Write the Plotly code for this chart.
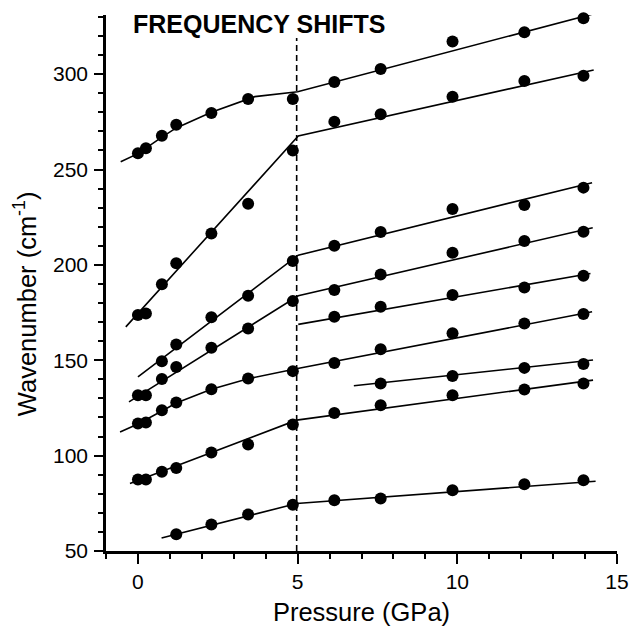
import plotly.graph_objects as go

# ---------------- data ----------------
P_full = [0.0, 0.25, 0.75, 1.2, 2.3, 3.45, 4.85, 6.15, 7.6, 9.85, 12.1, 13.95]

s1_x = P_full
s1_y = [258.5, 261.1, 267.7, 273.5, 279.6, 287.0, 287.0, 295.9, 302.7, 317.1, 322.0, 329.3]
s2_x = P_full
s2_y = [173.7, 174.5, 189.8, 200.8, 216.5, 232.0, 259.9, 275.1, 279.0, 288.2, 296.4, 299.2]
s3_x = [0.75, 1.2, 2.3, 3.45, 4.85, 6.15, 7.6, 9.85, 12.1, 13.95]
s3_y = [149.5, 158.3, 172.5, 183.8, 202.0, 210.0, 217.2, 229.3, 231.4, 240.5]
s4_x = P_full
s4_y = [131.7, 131.7, 140.2, 146.5, 156.5, 166.7, 181.0, 186.8, 195.0, 206.3, 212.5, 217.4]
s5_x = [6.15, 7.6, 9.85, 12.1, 13.95]
s5_y = [172.8, 178.0, 184.2, 188.2, 194.3]
s6_x = P_full
s6_y = [116.8, 117.4, 123.8, 127.9, 134.8, 140.4, 144.3, 148.6, 155.8, 164.1, 169.3, 174.2]
s7_x = [7.6, 9.85, 12.1, 13.95]
s7_y = [137.8, 141.8, 146.0, 148.0]
s8_x = P_full
s8_y = [87.5, 87.5, 91.5, 93.5, 101.6, 105.8, 116.3, 122.4, 126.4, 131.7, 134.7, 137.8]
s9_x = [1.2, 2.3, 3.45, 4.85, 6.15, 7.6, 9.85, 12.1, 13.95]
s9_y = [58.8, 63.9, 69.1, 74.3, 76.6, 77.5, 81.8, 85.0, 87.1]

# fitted lines (vertices)
f1_x = [-0.54, 0.0, 0.75, 1.2, 2.3, 3.0, 3.66, 5.0, 14.35]
f1_y = [254.1, 258.3, 267.0, 271.8, 280.0, 284.3, 288.2, 290.8, 332.0]
f2_x = [-0.38, 5.02, 14.27]
f2_y = [167.5, 267.6, 302.2]
f3_x = [0.0, 5.02, 14.22]
f3_y = [141.3, 205.1, 243.1]
f4_x = [-0.28, 5.02, 14.24]
f4_y = [128.2, 183.8, 219.5]
f5_x = [5.02, 14.17]
f5_y = [168.8, 195.5]
f6_x = [-0.56, 0.0, 0.75, 1.2, 2.3, 3.45, 5.0, 14.22]
f6_y = [112.4, 116.6, 123.4, 127.6, 134.8, 140.3, 145.7, 175.4]
f7_x = [6.76, 14.25]
f7_y = [136.6, 150.1]
f8_x = [-0.25, 4.97, 14.25]
f8_y = [85.4, 118.6, 139.6]
f9_x = [0.74, 4.97, 14.33]
f9_y = [56.8, 74.9, 86.6]

transition_x = [4.97, 4.97]
transition_y = [50, 319]

x_ticks = [0, 5, 10, 15]
y_ticks = [50, 100, 150, 200, 250, 300]

# ---------------- figure ----------------
FONT = "Liberation Sans, Arial, Helvetica, sans-serif"
fig = go.Figure()

fits = [(f1_x, f1_y), (f2_x, f2_y), (f3_x, f3_y), (f4_x, f4_y), (f5_x, f5_y),
        (f6_x, f6_y), (f7_x, f7_y), (f8_x, f8_y), (f9_x, f9_y)]
for fx, fy in fits:
    fig.add_trace(go.Scatter(x=fx, y=fy, mode="lines",
                             line=dict(color="black", width=1.6),
                             showlegend=False, hoverinfo="skip"))

fig.add_trace(go.Scatter(x=transition_x, y=transition_y, mode="lines",
                         line=dict(color="black", width=1.6, dash="6px,4px"),
                         showlegend=False, hoverinfo="skip"))

series = [(s1_x, s1_y), (s2_x, s2_y), (s3_x, s3_y), (s4_x, s4_y), (s5_x, s5_y),
          (s6_x, s6_y), (s7_x, s7_y), (s8_x, s8_y), (s9_x, s9_y)]
for sx, sy in series:
    fig.add_trace(go.Scatter(x=sx, y=sy, mode="markers",
                             marker=dict(color="black", size=12, symbol="circle"),
                             cliponaxis=False, showlegend=False))

fig.update_layout(
    width=632, height=629,
    margin=dict(l=106, r=15, t=15, b=78, autoexpand=False),
    paper_bgcolor="white", plot_bgcolor="white",
    font=dict(family=FONT, color="black", size=20),
    xaxis=dict(
        range=[-1, 15], tickvals=x_ticks, ticks="outside", ticklen=10,
        tickwidth=2, tickcolor="black", showline=True, linewidth=2.5,
        linecolor="black", showgrid=False, zeroline=False, mirror=False,
        automargin=False,
        tickfont=dict(size=21), ticklabelstandoff=0,
        minor=dict(dtick=1, ticks="outside", ticklen=5, tickwidth=1.5,
                   tickcolor="black", showgrid=False),
        title=dict(text="Pressure (GPa)", font=dict(size=25.5), standoff=12),
    ),
    yaxis=dict(
        range=[50, 331], tickvals=y_ticks, ticks="outside", ticklen=9,
        tickwidth=2, tickcolor="black", showline=True, linewidth=2.5,
        linecolor="black", showgrid=False, zeroline=False, mirror=False,
        automargin=False,
        tickfont=dict(size=21), ticklabelstandoff=2,
        minor=dict(dtick=10, ticks="outside", ticklen=5, tickwidth=1.5,
                   tickcolor="black", showgrid=False),
    ),
    annotations=[
        dict(text="<b>FREQUENCY SHIFTS</b>", xref="x", yref="y", x=-0.22, y=326.3,
             xanchor="left", yanchor="middle", showarrow=False,
             font=dict(family=FONT, size=25, color="black")),
        dict(text="Wavenumber (cm<sup>-1</sup>)", xref="paper", yref="paper",
             x=-0.157, y=0.462, xanchor="center", yanchor="middle",
             textangle=-90, showarrow=False,
             font=dict(family=FONT, size=25.5, color="black")),
    ],
)

fig.write_html("out.html",
               config={"displayModeBar": False},
               post_script="document.body.style.margin='0';"
                           "document.body.style.overflow='hidden';")
